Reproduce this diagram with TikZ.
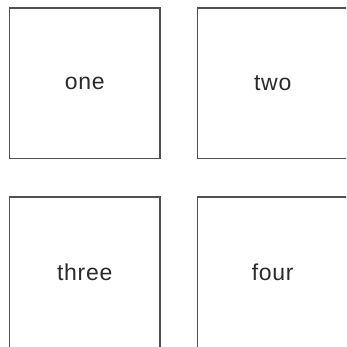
\documentclass[tikz,border=0pt]{standalone}
\usepackage{fontspec}
\setmainfont{Liberation Sans}[LetterSpace=3]
\definecolor{edge}{HTML}{505050}
\definecolor{ink}{HTML}{2A2A2A}
\tikzset{
  box/.style={draw=edge, line width=1.6pt, rectangle, inner sep=0pt,
    minimum width=150.5pt, minimum height=150.5pt,
    text=ink, font=\fontsize{23}{27}\selectfont},
}
\begin{document}
\begin{tikzpicture}[x=1pt,y=1pt]
\useasboundingbox (0,0) rectangle (346,-347);
\clip (0,0) rectangle (346,-347);
\node[box] (one) at (84.75,-83.25) {one};
\node[box] (two) at (272.75,-83.25) {two};
\node[box] (three) at (84.75,-272.5) {three};
\node[box] (four) at (272.75,-272.5) {four};
\end{tikzpicture}
\end{document}
